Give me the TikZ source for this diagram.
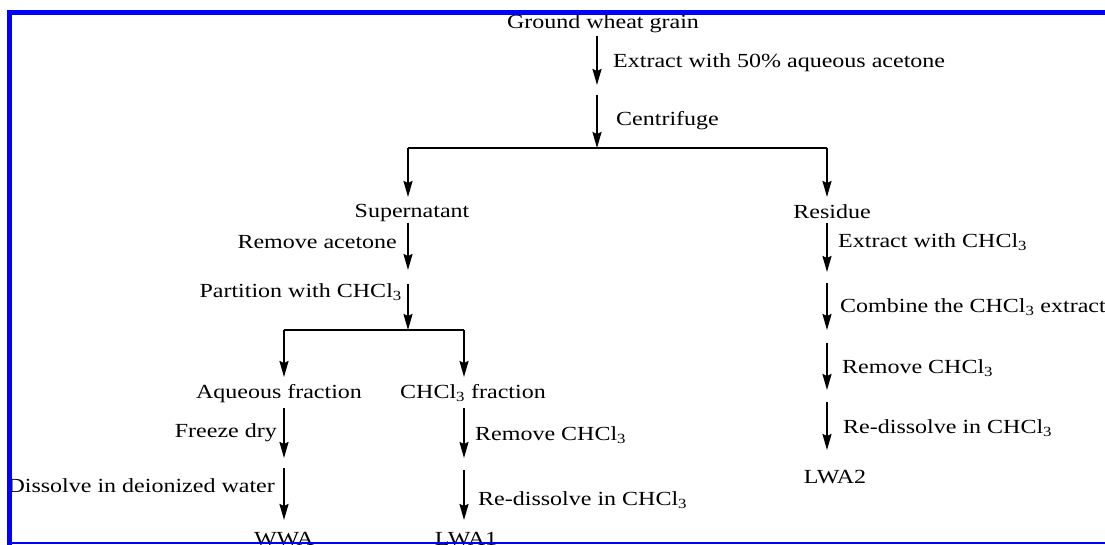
\documentclass[tikz,border=0pt]{standalone}
\usepackage{fontspec}
\setmainfont{Liberation Serif}[FakeStretch=1.2]
\usetikzlibrary{arrows.meta}
\newcommand{\chcl}{CHCl\textsubscript{3}}

\tikzset{
  lbl/.style={font=\fontsize{20}{24}\selectfont, inner sep=0pt},
  flow/.style={line width=2pt, -{Stealth[length=16pt,width=9pt,inset=2pt]}},
  split/.style={line width=2pt},
}

\begin{document}
\begin{tikzpicture}[x=1pt, y=-1pt]
    \useasboundingbox (0,0) rectangle (1105,544);
    \clip (0,0) rectangle (1105,544);

    % arrow ends
    \coordinate (a1) at (597,36);   \coordinate (b1) at (597,85);
    \coordinate (a2) at (597,95);   \coordinate (b2) at (597,148);
    \coordinate (L) at (408,148);   \coordinate (R) at (827,148);
    \coordinate (bL) at (408,197);  \coordinate (bR) at (827,197);
    \coordinate (a3) at (408,223);  \coordinate (b3) at (408,270);
    \coordinate (a4) at (408,284);  \coordinate (b4) at (408,330);
    \coordinate (LL) at (284,330);  \coordinate (LR) at (464,330);
    \coordinate (bLL) at (284,377); \coordinate (bLR) at (464,377);
    \coordinate (a5) at (284,408);  \coordinate (b5) at (284,458);
    \coordinate (a6) at (284,468);  \coordinate (b6) at (284,520);
    \coordinate (a7) at (464,408);  \coordinate (b7) at (464,458);
    \coordinate (a8) at (464,470);  \coordinate (b8) at (464,520);
    \coordinate (a9) at (827,223);  \coordinate (b9) at (827,272);
    \coordinate (a10) at (827,283); \coordinate (b10) at (827,330);
    \coordinate (a11) at (827,343); \coordinate (b11) at (827,390);
    \coordinate (a12) at (827,402); \coordinate (b12) at (827,450);

    % products
    \node[lbl, anchor=base] (grain) at (603,28) {Ground wheat grain};
    \node[lbl, anchor=base] (super) at (412,217) {Supernatant};
    \node[lbl, anchor=base] (resid) at (832,218) {Residue};
    \node[lbl, anchor=base] (aqfr) at (279,398) {Aqueous fraction};
    \node[lbl, anchor=base west] (chfr) at (400,398) {\chcl{} fraction};
    \node[lbl, anchor=base] (wwa) at (284,545) {WWA};
    \node[lbl, anchor=base] (lwa1) at (466,545) {LWA1};
    \node[lbl, anchor=base] (lwa2) at (835,483) {LWA2};

    % steps
    \node[lbl, anchor=base west] (ext) at (613,67) {Extract with 50\% aqueous acetone};
    \node[lbl, anchor=base west] (cent) at (616,125) {Centrifuge};
    \node[lbl, anchor=base east] (rmac) at (397,248) {Remove acetone};
    \node[lbl, anchor=base east] (part) at (402,297) {Partition with \chcl};
    \node[lbl, anchor=base east] (frz) at (277,437) {Freeze dry};
    \node[lbl, anchor=base east] (diss) at (275,492) {Dissolve in deionized water};
    \node[lbl, anchor=base west] (rmch1) at (475,440) {Remove \chcl};
    \node[lbl, anchor=base west] (redis1) at (478,505) {Re-dissolve in \chcl};
    \node[lbl, anchor=base west] (extch) at (838,247) {Extract with \chcl};
    \node[lbl, anchor=base west] (comb) at (840,312) {Combine the \chcl{} extracts};
    \node[lbl, anchor=base west] (rmch2) at (842,373) {Remove \chcl};
    \node[lbl, anchor=base west] (redis2) at (843,433) {Re-dissolve in \chcl};

    \draw[flow] (a1) -- (b1);
    \draw[flow] (a2) -- (b2);
    \draw[split] (L) -- (R);
    \draw[flow] (L) -- (bL);
    \draw[flow] (R) -- (bR);
    \draw[flow] (a3) -- (b3);
    \draw[flow] (a4) -- (b4);
    \draw[split] (LL) -- (LR);
    \draw[flow] (LL) -- (bLL);
    \draw[flow] (LR) -- (bLR);
    \draw[flow] (a5) -- (b5);
    \draw[flow] (a6) -- (b6);
    \draw[flow] (a7) -- (b7);
    \draw[flow] (a8) -- (b8);
    \draw[flow] (a9) -- (b9);
    \draw[flow] (a10) -- (b10);
    \draw[flow] (a11) -- (b11);
    \draw[flow] (a12) -- (b12);

    % frame
    \draw[blue, line width=5pt] (9.5,560) -- (9.5,12.5) -- (1120,12.5);
    \draw[blue, line width=1.5pt] (9.5,543) -- (1120,543);
  \end{tikzpicture}
\end{document}
